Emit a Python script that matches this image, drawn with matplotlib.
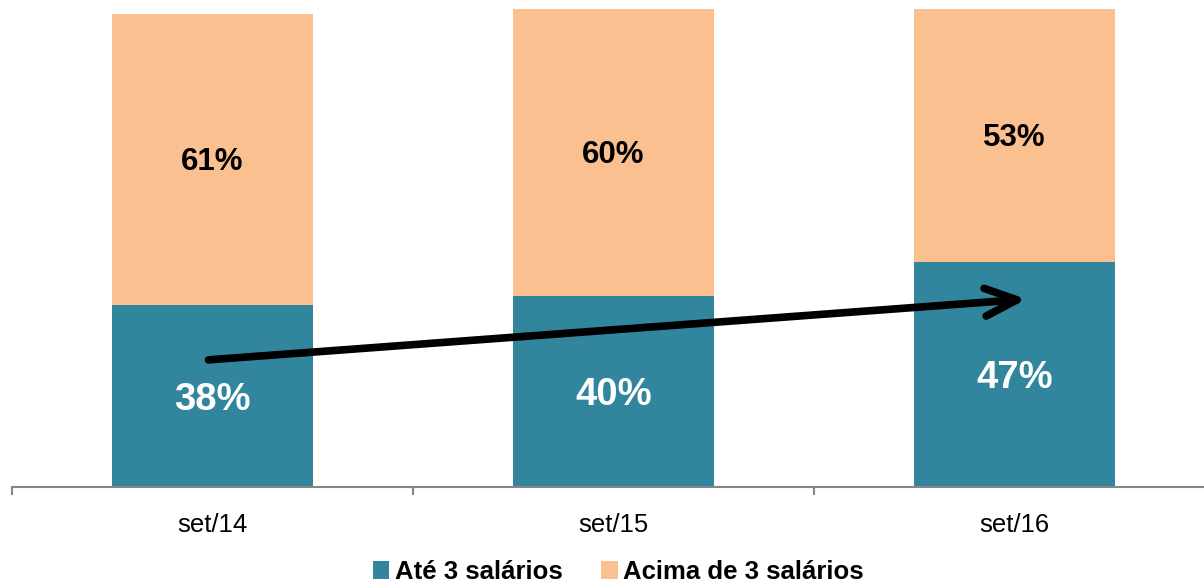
import numpy as np
import matplotlib.pyplot as plt

plt.rcParams["font.family"] = ["Liberation Sans", "DejaVu Sans"]

categories = ["set/14", "set/15", "set/16"]
ate_3 = [38, 40, 47]
acima_3 = [61, 60, 53]
series_names = ["Até 3 salários", "Acima de 3 salários"]

TEAL = "#31859C"
PEACH = "#FAC090"
GRAY = "#868686"

fig = plt.figure(figsize=(12.04, 5.85), dpi=100)
ax = fig.add_axes([12 / 1204, 98 / 585, 1203 / 1204, 478 / 585])

x = np.arange(len(categories))
b1 = ax.bar(x, ate_3, width=0.5, color=TEAL, label=series_names[0], zorder=2)
b2 = ax.bar(x, acima_3, width=0.5, bottom=ate_3, color=PEACH, label=series_names[1], zorder=2)

for xi, lo, hi in zip(x, ate_3, acima_3):
    ax.text(xi, lo / 2 - 0.8, f"{lo}%", ha="center", va="center", color="white",
            fontsize=27.5, fontweight="bold", zorder=4)
    ax.text(xi, lo + hi / 2 - 0.5, f"{hi}%", ha="center", va="center", color="black",
            fontsize=22.5, fontweight="bold", zorder=4)

# trend arrow over the lower series
ax.annotate("", xy=(2.03, 39.3), xytext=(-0.01, 26.6),
            arrowprops=dict(arrowstyle="->,head_length=2.3,head_width=1.0",
                            lw=5.5, color="black", capstyle="round",
                            joinstyle="round", shrinkA=0, shrinkB=0),
            zorder=5)

ax.set_xlim(-0.5, 2.5)
ax.set_ylim(0, 100)

for side in ["top", "right", "left"]:
    ax.spines[side].set_visible(False)
ax.spines["bottom"].set_color(GRAY)
ax.spines["bottom"].set_linewidth(1.5)
ax.set_yticks([])

ax.set_xticks([-0.5, 0.5, 1.5])
ax.set_xticklabels([])
ax.tick_params(axis="x", which="major", length=6, width=1.5, color=GRAY, direction="out")
ax.set_xticks(x, minor=True)
ax.set_xticklabels(categories, minor=True)
ax.tick_params(axis="x", which="minor", length=0, pad=19, labelsize=18.5)

fig.legend(handles=[b1, b2], labels=series_names, loc="center",
           bbox_to_anchor=(618 / 1204, 1 - 572 / 585), ncol=2, frameon=False,
           prop={"size": 18.5, "weight": "bold"}, handlelength=0.65, handleheight=0.65,
           handletextpad=0.2, columnspacing=1.5)

fig.savefig("out.png", dpi=100)
